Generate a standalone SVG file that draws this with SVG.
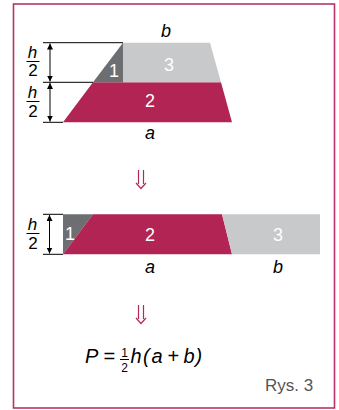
<svg xmlns="http://www.w3.org/2000/svg" width="339" height="410" viewBox="0 0 339 410">
<style>
.frame{fill:#fff;stroke:#b8336a;stroke-width:1.6}
.dim{stroke:#000;stroke-width:1;fill:none}
.c2{fill:#b12454}
.c1{fill:#6d6e71}
.c3{fill:#c8c9cb}
.num{font-family:"Liberation Sans",Arial,sans-serif;font-size:18px;fill:#fff;text-anchor:middle}
.var{font-family:"Liberation Sans",Arial,sans-serif;font-size:18px;font-style:italic;fill:#000;text-anchor:middle}
.frac{font-family:"Liberation Sans",Arial,sans-serif;font-size:17px;fill:#000;text-anchor:middle}
.darr{stroke:#b5265b;stroke-width:1.2;fill:none}
.f{font-family:"Liberation Sans",Arial,sans-serif;font-size:20px;fill:#000}
.fi{font-family:"Liberation Sans",Arial,sans-serif;font-size:20px;fill:#000;font-style:italic}
.cap{font-family:"Liberation Sans",Arial,sans-serif;font-size:17px;fill:#555}
</style>
<defs>
<marker id="ah" viewBox="0 0 10 10" refX="10" refY="5" markerWidth="6" markerHeight="6" orient="auto-start-reverse" markerUnits="userSpaceOnUse">
<path d="M0,0 L10,5 L0,10 z" fill="#000"/>
</marker>
</defs>
<rect class="frame" x="13.5" y="4" width="321" height="404"/>

<g id="top-figure">
<polygon class="c2" points="93,82.3 221,82.3 232,122.3 63,122.3"/>
<polygon class="c1" points="93,82.3 123,42.7 123,82.3"/>
<polygon class="c3" points="123,42.7 210,42.7 221,82.3 123,82.3"/>
<text class="num" x="114" y="77">1</text>
<text class="num" x="169" y="70.7">3</text>
<text class="num" x="150" y="107.3">2</text>
<text class="var" x="166" y="37">b</text>
<text class="var" x="150" y="139">a</text>
</g>

<g id="top-dimensions">
<line class="dim" x1="43" y1="42.7" x2="123" y2="42.7"/>
<line class="dim" x1="43" y1="82.3" x2="93" y2="82.3"/>
<line class="dim" x1="43" y1="122.3" x2="63" y2="122.3"/>
<line class="dim" x1="50" y1="43.5" x2="50" y2="81.5" marker-start="url(#ah)" marker-end="url(#ah)"/>
<line class="dim" x1="50" y1="83" x2="50" y2="121.5" marker-start="url(#ah)" marker-end="url(#ah)"/>
<text class="var" x="32.5" y="58" style="font-size:17px">h</text>
<line class="dim" x1="26.5" y1="61.5" x2="39.5" y2="61.5"/>
<text class="frac" x="33" y="76">2</text>
<text class="var" x="32.5" y="97.5" style="font-size:17px">h</text>
<line class="dim" x1="26.5" y1="101.5" x2="39.5" y2="101.5"/>
<text class="frac" x="33" y="117">2</text>
</g>

<g id="arrow-1"><path class="darr" d="M138.5,170 V184 M143.5,170 V184 M136,183 L141,188.5 L146,183"/></g>

<g id="bottom-figure">
<polygon class="c1" points="63,214.3 93,214.3 63,254.3"/>
<polygon class="c2" points="93,214.3 222,214.3 232,254.3 63,254.3"/>
<polygon class="c3" points="222,214.3 320,214.3 320,254.3 232,254.3"/>
<text class="num" x="70" y="240">1</text>
<text class="num" x="150" y="241">2</text>
<text class="num" x="278" y="241">3</text>
<text class="var" x="150" y="273">a</text>
<text class="var" x="278" y="273">b</text>
</g>

<g id="bottom-dimensions">
<line class="dim" x1="43" y1="214.3" x2="63" y2="214.3"/>
<line class="dim" x1="43" y1="254.3" x2="63" y2="254.3"/>
<line class="dim" x1="49.5" y1="215" x2="49.5" y2="253.5" marker-start="url(#ah)" marker-end="url(#ah)"/>
<text class="var" x="32.5" y="229.5" style="font-size:17px">h</text>
<line class="dim" x1="26.5" y1="233.5" x2="39.5" y2="233.5"/>
<text class="frac" x="33" y="249">2</text>
</g>

<g id="arrow-2"><path class="darr" d="M138.5,305 V319 M143.5,305 V319 M136,318 L141,323.5 L146,318"/></g>

<g id="formula">
<text class="fi" x="85" y="363">P</text>
<text class="f" x="103.5" y="363">=</text>
<text class="f" x="124.5" y="356.5" text-anchor="middle" style="font-size:12px">1</text>
<line class="dim" x1="120" y1="359.5" x2="129" y2="359.5"/>
<text class="f" x="124.5" y="372" text-anchor="middle" style="font-size:12px">2</text>
<text class="fi" x="130.5" y="363">h</text>
<text class="fi" x="143" y="363">(</text>
<text class="fi" x="151.5" y="363">a</text>
<text class="f" x="167.5" y="363">+</text>
<text class="fi" x="183.5" y="363">b</text>
<text class="fi" x="195.5" y="363">)</text>
</g>

<text class="cap" x="265" y="390.7">Rys. 3</text>
</svg>
